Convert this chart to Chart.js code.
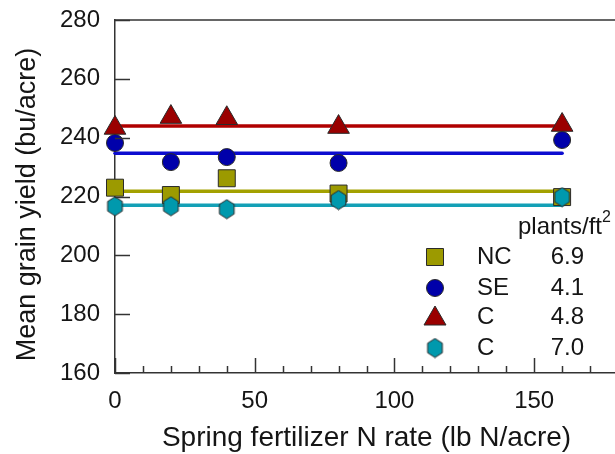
<!DOCTYPE html>
<html><head><meta charset="utf-8">
<script src="https://cdn.jsdelivr.net/npm/chart.js@4"></script>
<style>html,body{margin:0;padding:0;overflow:hidden;background:#fff;width:615px;height:454px}canvas{display:block}</style>
</head><body>
<canvas id="c" width="622" height="454"></canvas>
<script>
// ---- data ----
const nRates = [0, 20, 40, 80, 160];
const seriesNames = ['NC', 'SE', 'C', 'C'];
const plantDensity = ['6.9', '4.1', '4.8', '7.0'];
const yieldNC = [223.0, 220.5, 226.2, 221.0, 219.8];
const yieldSE = [238.2, 231.7, 233.4, 231.4, 239.2];
const yieldC48 = [243.3, 247.0, 246.6, 243.6, 244.3];
const yieldC70 = [216.7, 216.7, 215.7, 218.8, 219.8];
const meanYield = [221.8, 234.7, 244.0, 217.0];
const fitRange = [0, 160];
const yTickValues = [160, 180, 200, 220, 240, 260, 280];
const xTickLabels = [0, 50, 100, 150];
const xTitle = 'Spring fertilizer N rate (lb N/acre)';
const yTitle = 'Mean grain yield (bu/acre)';
const legendHeader = 'plants/ft';

// ---- styles ----
const FONT = "'Liberation Sans', Arial, sans-serif";
const fills = ['#9c9a00', '#0000aa', '#9a0000', '#0099ad'];
const lineCols = ['#a3a100', '#0c0cd0', '#b00000', '#13a0b6'];
const edge = '#2a2a2a';
const txt = '#151515';

function makeHex(w, h, fill) {
  const c = document.createElement('canvas');
  c.width = w + 2; c.height = h + 2;
  const g = c.getContext('2d');
  const cx = c.width / 2, cy = c.height / 2, rx = w / 2, ry = h / 2;
  g.beginPath();
  for (let i = 0; i < 6; i++) {
    const a = -Math.PI / 2 + i * Math.PI / 3;
    const px = cx + Math.cos(a) * rx;
    const py = cy + Math.sin(a) * ry;
    if (i === 0) g.moveTo(px, py); else g.lineTo(px, py);
  }
  g.closePath();
  g.fillStyle = fill; g.fill();
  g.lineWidth = 1; g.strokeStyle = edge; g.stroke();
  return c;
}
const hexImg = makeHex(17, 19, fills[3]);

function pts(arr) { return nRates.map((x, i) => ({x: x, y: arr[i]})); }
function fit(m) { return fitRange.map(x => ({x: x, y: m})); }

const markerSets = [
  {label: seriesNames[0], data: pts(yieldNC), pointStyle: 'rect', pointRadius: 12, backgroundColor: fills[0], order: 3},
  {label: seriesNames[1], data: pts(yieldSE), pointStyle: 'circle', pointRadius: 8.5, backgroundColor: fills[1], order: 2},
  {label: seriesNames[2], data: pts(yieldC48), pointStyle: 'triangle', pointRadius: 12.5, backgroundColor: fills[2], order: 1},
  {label: seriesNames[3], data: pts(yieldC70), pointStyle: hexImg, pointRadius: 9, backgroundColor: fills[3], order: 0}
].map(d => Object.assign(d, {type: 'scatter', borderColor: edge, borderWidth: 1, clip: false, showLine: false}));

const lineSets = meanYield.map((m, i) => ({
  type: 'line', data: fit(m), borderColor: lineCols[i], borderWidth: 3.5, pointRadius: 0,
  order: 10, clip: false, borderCapStyle: 'round'
}));

const frame = {
  id: 'frame',
  afterDraw(chart) {
    const {ctx, chartArea: a, scales: {x, y}} = chart;
    ctx.save();
    ctx.strokeStyle = '#333'; ctx.lineWidth = 1.5;
    ctx.beginPath(); ctx.moveTo(a.left, a.top); ctx.lineTo(a.right, a.top); ctx.stroke();
    // x ticks (inward)
    for (let v = x.min; v <= x.max; v += 10) {
      const px = Math.round(x.getPixelForValue(v)) + 0.5;
      const len = (v % 50 === 0) ? 15 : 7;
      ctx.beginPath(); ctx.moveTo(px, a.bottom); ctx.lineTo(px, a.bottom - len); ctx.stroke();
    }
    yTickValues.forEach(v => {
      const py = Math.round(y.getPixelForValue(v)) + 0.5;
      ctx.beginPath(); ctx.moveTo(a.left, py); ctx.lineTo(a.left + 15, py); ctx.stroke();
    });
    // y title
    ctx.save();
    ctx.translate(28, (a.top + a.bottom) / 2 + 8);
    ctx.rotate(-Math.PI / 2);
    ctx.fillStyle = txt; ctx.font = '27px ' + FONT;
    ctx.textAlign = 'center'; ctx.textBaseline = 'middle';
    ctx.fillText(yTitle, 0, 0);
    ctx.restore();
    // legend
    const lx = 435, rows = [257, 288, 317, 348];
    ctx.fillStyle = txt;
    ctx.font = '24px ' + FONT;
    ctx.textBaseline = 'alphabetic'; ctx.textAlign = 'right';
    ctx.fillText(legendHeader, 602, 234);
    ctx.font = '16px ' + FONT; ctx.textAlign = 'left';
    ctx.fillText('2', 602, 222);
    rows.forEach((ry, i) => {
      ctx.fillStyle = fills[i]; ctx.strokeStyle = edge; ctx.lineWidth = 1;
      ctx.beginPath();
      if (i === 0) { ctx.rect(lx - 8.5, ry - 8.5, 17, 17); }
      else if (i === 1) { ctx.arc(lx, ry, 8.5, 0, Math.PI * 2); }
      else if (i === 2) { ctx.moveTo(lx, ry - 11); ctx.lineTo(lx + 11, ry + 8); ctx.lineTo(lx - 11, ry + 8); ctx.closePath(); }
      if (i < 3) { ctx.fill(); ctx.stroke(); }
      else { ctx.drawImage(hexImg, lx - hexImg.width / 2, ry - hexImg.height / 2); }
      ctx.fillStyle = txt; ctx.font = '24px ' + FONT; ctx.textBaseline = 'middle';
      ctx.textAlign = 'left'; ctx.fillText(seriesNames[i], 477, ry);
      ctx.textAlign = 'right'; ctx.fillText(plantDensity[i], 584, ry);
    });
    ctx.restore();
  }
};

new Chart(document.getElementById('c'), {
  data: {datasets: [...markerSets, ...lineSets]},
  options: {
    responsive: false, animation: false, devicePixelRatio: 1,
    layout: {autoPadding: false, padding: {top: 20, right: 4, left: 0, bottom: 0}},
    plugins: {legend: {display: false}, tooltip: {enabled: false}},
    scales: {
      x: {
        type: 'linear', min: 0, max: 180,
        afterFit(s) { s.height = 81; s.paddingLeft = 0; s.paddingRight = 0; },
        afterBuildTicks(s) { s.ticks = xTickLabels.map(v => ({value: v})); },
        grid: {display: false, drawTicks: false},
        border: {display: true, color: '#333', width: 1.5},
        ticks: {padding: 14, color: txt, font: {family: FONT, size: 24}},
        title: {display: true, text: xTitle, color: txt, font: {family: FONT, size: 28}, padding: {top: 0, bottom: -1}}
      },
      y: {
        type: 'linear', min: 160, max: 280,
        afterFit(s) { s.width = 115; s.paddingTop = 0; s.paddingBottom = 0; },
        afterBuildTicks(s) { s.ticks = yTickValues.map(v => ({value: v})); },
        grid: {display: false, drawTicks: false},
        border: {display: true, color: '#333', width: 1.5},
        ticks: {padding: 15, color: txt, font: {family: FONT, size: 24}},
        title: {display: false}
      }
    }
  },
  plugins: [frame]
});
</script>
</body></html>
